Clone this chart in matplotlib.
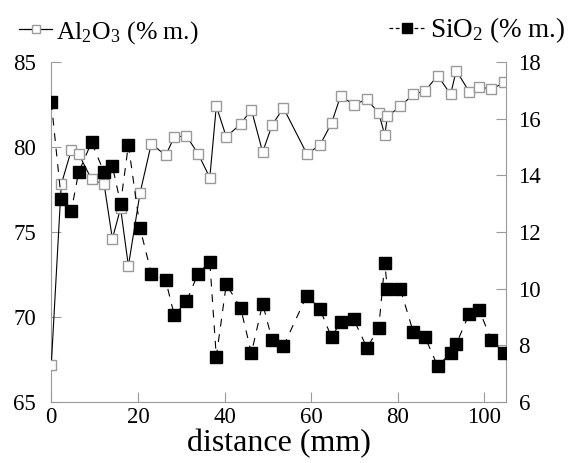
import matplotlib
matplotlib.use("Agg")
import matplotlib.pyplot as plt
from matplotlib.lines import Line2D

plt.rcParams['font.family'] = ['Liberation Serif', 'DejaVu Serif']
plt.rcParams['mathtext.fontset'] = 'custom'
plt.rcParams['mathtext.rm'] = 'Liberation Serif'
plt.rcParams['mathtext.it'] = 'Liberation Serif:italic'

# datos
distance = [0, 2.3, 4.6, 6.3, 9.3, 12.2, 14.1, 16.0, 17.8, 20.5, 23.1, 26.4, 28.4, 31.2,
            33.9, 36.6, 38.1, 40.4, 43.7, 46.2, 48.8, 51.0, 53.6, 59.0, 62.0, 64.7, 66.8,
            69.8, 72.9, 75.6, 77.0, 77.6, 80.6, 83.6, 86.3, 89.2, 92.2, 93.5, 96.5, 98.8,
            101.6, 104.6]
al2o3 = [67.2, 77.8, 79.8, 79.6, 78.1, 77.8, 74.6, 76.4, 73.0, 77.3, 80.2, 79.5, 80.6, 80.65,
         79.6, 78.2, 82.4, 80.6, 81.35, 82.2, 79.7, 81.3, 82.3, 79.6, 80.1, 81.4, 83.0,
         82.5, 82.8, 82.0, 80.7, 81.8, 82.4, 83.1, 83.3, 84.2, 83.1, 84.5, 83.25, 83.55,
         83.4, 83.8]
sio2 = [16.58, 13.15, 12.73, 14.1, 15.17, 14.1, 14.33, 13.0, 15.07, 12.13, 10.53, 10.3, 9.06, 9.55,
        10.53, 10.94, 7.59, 10.15, 9.33, 7.72, 9.47, 8.18, 7.97, 9.75, 9.29, 8.28, 8.82,
        8.92, 7.91, 8.6, 10.9, 9.98, 9.98, 8.46, 8.28, 7.27, 7.72, 8.04, 9.11, 9.25,
        8.18, 7.72]

gray = '#9a9a9a'

fig, ax = plt.subplots(figsize=(5.79, 4.63), dpi=100)
fig.subplots_adjust(left=0.0886, right=0.874, bottom=0.132, top=0.866)
ax2 = ax.twinx()

# Al2O3 - linea continua, cuadrado abierto
ax.plot(distance, al2o3, color='black', lw=0.8, marker='s', ms=7.5,
        mfc='white', mec=gray, mew=1.0, zorder=3)
# SiO2 - linea discontinua, cuadrado relleno
ax2.plot(distance, sio2, color='black', lw=0.8, ls=(0, (7, 7)), marker='s', ms=8.5,
         mfc='black', mec='black', zorder=3)

ax.set_xlim(0, 105)
ax.set_ylim(65, 85)
ax2.set_ylim(6, 18)
ax.set_xticks([0, 20, 40, 60, 80, 100])
ax.set_yticks([65, 70, 75, 80, 85])
ax2.set_yticks([6, 8, 10, 12, 14, 16, 18])

for a in (ax, ax2):
    a.spines['top'].set_visible(False)
    for s in ('left', 'right', 'bottom'):
        a.spines[s].set_color(gray)
    a.tick_params(direction='in', length=7, color=gray, labelsize=16.5)
    for lab in a.get_xticklabels() + a.get_yticklabels():
        lab.set_fontfamily('Liberation Serif')
ax.tick_params(axis='x', pad=4)
ax.tick_params(axis='y', pad=11)
ax2.tick_params(axis='y', pad=9)
ax.spines['right'].set_visible(False)
ax2.spines['left'].set_visible(False)
ax2.spines['bottom'].set_visible(False)

ax.set_xlabel('distance (mm)', fontsize=23, labelpad=0)

# leyendas arriba
h1 = Line2D([], [], color='black', lw=0.9, marker='s', ms=6, mfc='white', mec=gray)
h2 = Line2D([], [], color='black', lw=0.9, ls=(0, (3, 2)), marker='s', ms=7, mfc='black', mec='black')
fig.legend([h1], [r'Al$_2$O$_3$ (% m.)'], loc='center left', bbox_to_anchor=(0.015, 0.93),
           frameon=False, fontsize=18.5, handlelength=1.3, handletextpad=0.15, borderaxespad=0)
fig.legend([h2], [r'SiO$_2$ (% m.)'], loc='center right', bbox_to_anchor=(0.995, 0.935),
           frameon=False, fontsize=19.5, handlelength=1.3, handletextpad=0.2, borderaxespad=0)

fig.savefig('out.png', dpi=100)
